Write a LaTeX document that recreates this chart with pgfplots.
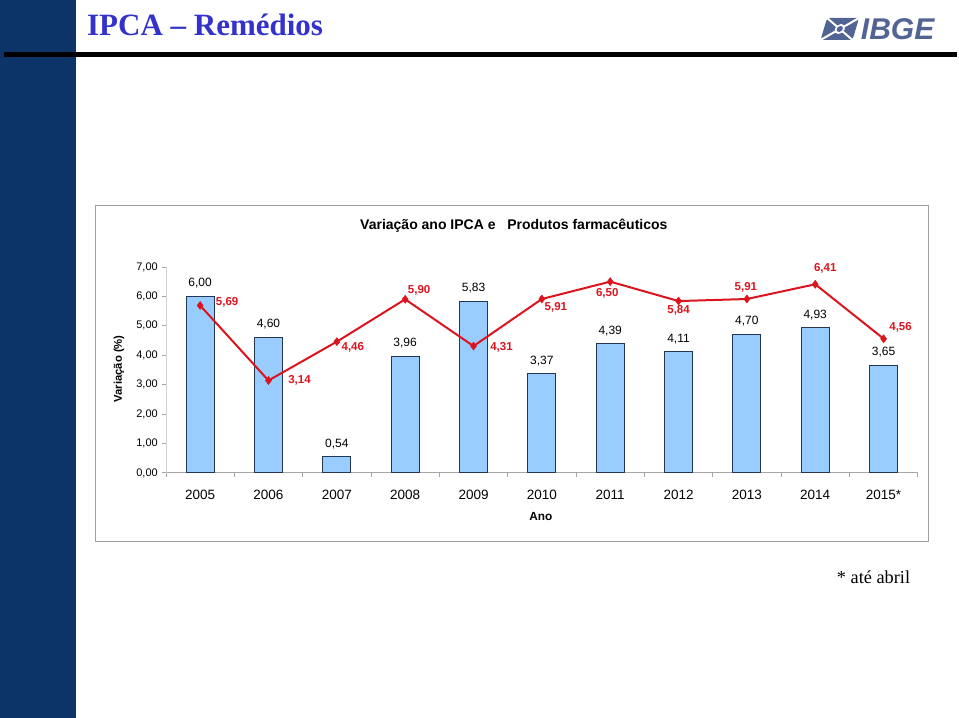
\documentclass[border=0pt]{standalone}
\usepackage{pgfplots}
\pgfplotsset{compat=1.18}
\usepackage{pgfplotstable}
\usepackage{fontspec}
\setmainfont{Liberation Sans}
\newfontfamily\seriffont{Liberation Serif}
\definecolor{navybar}{RGB}{12,52,104}
\definecolor{titleblue}{RGB}{51,51,204}
\definecolor{barfill}{HTML}{99CCFF}
\definecolor{bardraw}{RGB}{35,55,85}
\definecolor{linered}{RGB}{220,20,30}
\definecolor{logoblue}{RGB}{82,100,148}
\definecolor{boxgray}{RGB}{160,160,160}

\pgfplotstableread{
x y
0 6.00
1 4.60
2 0.54
3 3.96
4 5.83
5 3.37
6 4.39
7 4.11
8 4.70
9 4.93
10 3.65
}\bardata

\pgfplotstableread{
x y dx dy
0 5.69 27 3
1 3.14 31 0
2 4.46 16 -6
3 5.90 14 9
4 4.31 28 -1
5 5.91 14 -8
6 6.50 -3 -12
7 5.84 0 -9
8 5.91 -1 12
9 6.41 10 16
10 4.56 17 11
}\linedata

\begin{document}
\begin{tikzpicture}
% page frame
\path (0pt,0pt) rectangle (959pt,-718pt);
% left navy bar
\fill[navybar] (0pt,0pt) rectangle (76pt,-718pt);
% black rule
\draw[black, line width=4.5pt] (4pt,-54.5pt) -- (957pt,-54.5pt);
% title
\node[anchor=base west, inner sep=0pt, text=titleblue, font=\seriffont\bfseries\fontsize{31}{34}\selectfont] at (87pt,-36pt) {IPCA – Remédios};
% logo
\begin{scope}[shift={(840pt,-29pt)}, xslant=0.3]
  \fill[logoblue, rounded corners=3pt] (-16pt,-11pt) rectangle (16pt,11pt);
  \draw[white, line width=2pt] (-16pt,-11pt) -- (16pt,11pt);
  \draw[white, line width=2pt] (-16pt,11pt) -- (16pt,-11pt);
  \fill[white] (0pt,0pt) circle (5pt);
  \fill[logoblue] (0pt,0pt) circle (3pt);
\end{scope}
\node[anchor=base west, inner sep=0pt, text=logoblue, font=\bfseries\itshape\fontsize{30}{32}\selectfont] at (861pt,-40pt) {IBGE};
% chart box
\draw[boxgray, line width=1pt] (96pt,-206pt) rectangle (929pt,-542pt);
% chart title
\node[anchor=base, inner sep=0pt, font=\bfseries\fontsize{14}{16}\selectfont] at (514pt,-230pt) {Variação ano IPCA e\ \ \ Produtos farmacêuticos};
% footnote
\node[anchor=base west, inner sep=0pt, font=\seriffont\fontsize{18.3}{20}\selectfont] at (837pt,-584pt) {* até abril};

\begin{axis}[
  at={(166pt,-473pt)}, anchor=south west,
  scale only axis, width=752pt, height=206pt,
  xmin=-0.5, xmax=10.5, ymin=0, ymax=7,
  clip=false,
  axis x line*=bottom, axis y line*=left,
  axis line style={draw=gray!70, line width=0.8pt},
  y axis line style={draw=gray!35, line width=0.6pt},
  tick align=outside,
  ytick={0,1,...,7},
  major tick length=4pt, minor tick length=4pt,
  tick style={draw=gray!70, line width=0.8pt},
  xtick={0,...,10},
  xticklabels={2005,2006,2007,2008,2009,2010,2011,2012,2013,2014,2015*},
  major x tick style={draw=none},
  minor xtick={-0.5,0.5,1.5,2.5,3.5,4.5,5.5,6.5,7.5,8.5,9.5,10.5},
  /pgf/number format/.cd, use comma, fixed, fixed zerofill, precision=2, assume math mode=true,
  /pgfplots/.cd,
  yticklabel style={font=\fontsize{11}{13}\selectfont, anchor=east, inner sep=0pt, xshift=-4pt},
  xticklabel style={font=\fontsize{13.5}{15}\selectfont, anchor=base, inner sep=0pt, yshift=-23pt},
  xticklabel shift=0pt,
  every axis x label/.style={at={(axis description cs:0.4987,-0.232)}, anchor=base, inner sep=0pt},
  every axis y label/.style={at={(axis description cs:-0.0625,0.505)}, rotate=90, anchor=center, inner sep=0pt},
  xlabel={\bfseries\fontsize{11.8}{13}\selectfont Ano},
  ylabel={\bfseries\fontsize{11.3}{13}\selectfont Variação (\%)},
]
\addplot[ybar, bar width=28pt, fill=barfill, draw=bardraw, line width=1pt,
  nodes near coords,
  every node near coord/.append style={font=\fontsize{12}{14}\selectfont, text=black, anchor=base, yshift=9.7pt}]
  table[x=x, y=y] {\bardata};
\addplot[linered, line width=2pt, mark=diamond*, mark size=4pt, mark options={fill=linered, draw=linered, line width=0.5pt},
  visualization depends on={\thisrow{dx} \as \dx},
  visualization depends on={\thisrow{dy} \as \dy},
  nodes near coords,
  every node near coord/.append style={font=\bfseries\fontsize{11.5}{13}\selectfont, text=linered, anchor=center, xshift=\dx pt, yshift=\dy pt}]
  table[x=x, y=y] {\linedata};
\end{axis}
\end{tikzpicture}
\end{document}
